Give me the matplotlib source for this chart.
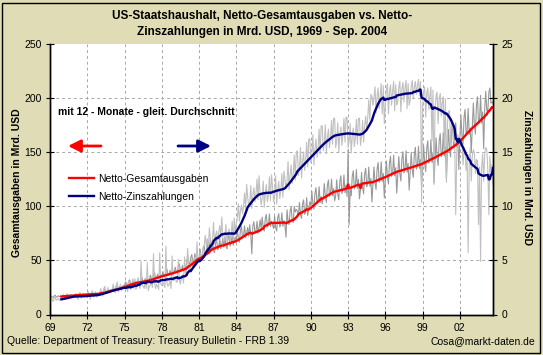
import numpy as np
import pandas as pd
import matplotlib
matplotlib.use('Agg')
import matplotlib.pyplot as plt
from matplotlib.patches import Rectangle

plt.rcParams['font.family'] = ['Liberation Sans', 'DejaVu Sans']

# ---------------- Monatswerte Jan 1969 - Sep 2004, Mrd. USD ----------------
ausgaben = [
    15.8, 17.0, 16.2, 15.6, 17.1, 17.8, 16.1, 16.4, 17.3, 16.5, 16.8, 16.6,   # 1969
    16.8, 18.1, 17.1, 16.7, 18.2, 18.6, 16.9, 17.4, 18.3, 17.2, 17.6, 17.7,   # 1970
    17.6, 19.1, 17.9, 17.5, 19.2, 19.6, 17.8, 18.2, 19.1, 18.1, 18.6, 18.3,   # 1971
    18.1, 19.6, 18.4, 18.0, 19.8, 20.6, 18.2, 18.8, 20.1, 18.9, 19.5, 19.2,   # 1972
    20.1, 21.6, 20.5, 20.4, 22.3, 23.1, 20.9, 21.5, 22.9, 21.8, 22.5, 22.8,   # 1973
    22.8, 25.0, 23.5, 23.2, 25.7, 26.3, 23.8, 24.6, 26.4, 24.8, 25.7, 27.0,   # 1974
    26.4, 30.1, 27.2, 26.8, 30.6, 32.0, 27.3, 28.4, 31.1, 28.0, 29.6, 30.5,   # 1975
    28.8, 32.4, 29.6, 28.7, 33.0, 33.9, 29.3, 30.5, 33.2, 29.9, 31.7, 32.2,   # 1976
    32.0, 36.3, 32.9, 32.2, 36.8, 38.6, 33.0, 34.1, 37.3, 33.6, 35.7, 36.3,   # 1977
    35.1, 39.5, 35.8, 35.2, 40.3, 41.9, 36.1, 37.2, 40.6, 36.7, 38.9, 39.9,   # 1978
    38.9, 43.6, 39.4, 38.7, 45.0, 46.7, 39.6, 40.8, 45.3, 40.1, 43.0, 44.1,   # 1979
    46.5, 54.7, 47.2, 46.8, 52.6, 55.3, 48.0, 49.7, 56.1, 50.4, 52.5, 51.0,   # 1980
    52.6, 60.3, 54.0, 52.1, 61.6, 63.2, 55.4, 57.8, 65.0, 56.5, 62.3, 69.6,   # 1981
    58.4, 66.8, 59.1, 57.0, 66.5, 68.9, 59.8, 61.5, 70.1, 60.6, 64.7, 69.8,   # 1982
    62.2, 71.7, 62.9, 60.6, 70.4, 73.6, 63.1, 65.3, 74.0, 63.8, 68.5, 71.5,   # 1983
    68.6, 79.0, 69.5, 66.7, 77.9, 81.1, 70.2, 72.4, 81.8, 70.9, 75.6, 80.3,   # 1984
    72.4, 82.8, 73.2, 56.0, 82.1, 85.6, 75.3, 76.7, 86.0, 75.1, 79.9, 87.3,   # 1985
    79.2, 89.8, 80.3, 77.0, 88.6, 92.3, 80.7, 82.5, 92.8, 81.2, 85.9, 82.5,   # 1986
    79.3, 90.7, 80.2, 77.0, 89.4, 93.1, 80.8, 82.9, 93.8, 81.4, 86.7, 82.3,   # 1987
    71.3, 96.6, 86.2, 83.0, 95.4, 99.1, 86.5, 84.9, 99.7, 94.6, 96.9, 95.4,   # 1988
    91.1, 103.3, 92.2, 88.7, 102.0, 105.8, 92.5, 94.1, 107.9, 91.3, 98.4, 103.9,   # 1989
    100.6, 113.5, 101.7, 97.3, 112.2, 117.0, 102.4, 104.8, 117.9, 103.3, 108.7, 102.2,   # 1990
    107.4, 120.8, 108.6, 103.5, 119.3, 124.1, 109.1, 111.4, 124.9, 109.5, 116.2, 104.8,  # 1991
    109.8, 124.2, 111.1, 105.9, 122.7, 128.0, 111.6, 114.3, 128.6, 112.2, 119.4, 109.0,  # 1992
    152.0, 83.0, 115.2, 109.5, 127.3, 132.6, 115.9, 118.4, 133.7, 116.3, 124.6, 106.7,   # 1993
    115.7, 131.0, 117.2, 111.4, 129.6, 134.9, 117.8, 120.4, 136.0, 118.3, 125.5, 103.8,  # 1994
    119.9, 136.1, 121.5, 115.4, 134.3, 140.2, 122.2, 124.8, 140.9, 122.7, 130.1, 107.5,  # 1995
    125.1, 141.6, 126.7, 120.4, 140.0, 145.9, 127.4, 130.0, 146.8, 127.9, 135.5, 111.9,  # 1996
    128.1, 145.7, 129.9, 123.2, 143.8, 150.2, 130.6, 133.4, 151.1, 131.2, 139.2, 114.8,  # 1997
    131.5, 149.6, 133.4, 126.5, 147.7, 154.2, 134.1, 137.0, 155.1, 134.7, 142.9, 117.7,  # 1998
    137.1, 155.5, 139.0, 131.9, 153.6, 160.3, 139.7, 142.6, 161.3, 140.3, 148.7, 121.6,  # 1999
    142.8, 163.0, 144.9, 137.5, 160.0, 166.9, 145.6, 148.6, 167.9, 146.2, 154.9, 125.3,  # 2000
    150.8, 170.7, 153.0, 145.3, 168.7, 175.8, 153.7, 156.8, 176.9, 154.3, 163.4, 133.8,  # 2001
    162.9, 183.9, 165.2, 157.1, 181.7, 189.2, 166.0, 169.2, 190.0, 166.0, 172.0, 150.0,  # 2002
    172.6, 195.2, 175.1, 166.4, 192.8, 200.9, 176.0, 179.4, 202.1, 176.5, 186.9, 152.9,  # 2003
    190.0, 206.0, 188.0, 188.0, 205.0, 209.0, 195.0, 196.0, 195.1,                       # 2004
]

zinsen = [
    1.3, 1.5, 1.4, 1.2, 1.5, 1.6, 1.3, 1.4, 1.5, 1.3, 1.4, 1.4,   # 1969
    1.5, 1.8, 1.6, 1.4, 1.8, 1.9, 1.5, 1.6, 1.8, 1.6, 1.7, 1.6,   # 1970
    1.6, 1.9, 1.6, 1.4, 1.9, 2.0, 1.5, 1.6, 1.9, 1.6, 1.7, 1.7,   # 1971
    1.6, 2.1, 1.7, 1.4, 2.0, 2.2, 1.6, 1.7, 2.1, 1.6, 1.8, 1.8,   # 1972
    1.9, 2.4, 2.0, 1.7, 2.4, 2.6, 1.9, 2.0, 2.5, 2.0, 2.2, 2.2,   # 1973
    2.2, 2.8, 2.3, 2.0, 2.7, 3.0, 2.1, 2.3, 2.8, 2.2, 2.5, 2.5,   # 1974
    2.4, 2.7, 2.5, 2.1, 3.1, 2.9, 2.3, 2.5, 3.3, 2.4, 3.3, 2.3,   # 1975
    2.6, 3.4, 2.7, 2.4, 4.9, 2.7, 2.6, 2.4, 3.2, 2.4, 4.8, 2.2,   # 1976
    2.6, 2.7, 2.9, 2.5, 5.6, 2.9, 2.4, 2.8, 2.6, 2.3, 5.7, 2.8,   # 1977
    2.7, 3.0, 2.8, 2.5, 6.3, 2.9, 2.6, 2.8, 3.1, 2.4, 5.4, 3.1,   # 1978
    3.2, 3.5, 3.0, 3.0, 5.1, 3.2, 2.8, 3.4, 3.7, 2.9, 5.3, 3.6,   # 1979
    4.1, 6.1, 4.2, 4.0, 4.7, 5.1, 4.4, 4.8, 5.3, 4.5, 6.7, 4.9,   # 1980
    5.0, 5.7, 5.4, 5.2, 6.2, 6.4, 7.3, 6.3, 7.0, 6.2, 8.0, 6.9,   # 1981
    6.3, 6.9, 8.5, 6.5, 7.3, 7.7, 6.9, 7.5, 8.2, 7.1, 9.0, 6.9,   # 1982
    6.7, 7.2, 8.3, 6.6, 7.5, 7.9, 6.8, 7.3, 8.6, 6.7, 8.9, 7.5,   # 1983
    8.4, 8.9, 10.2, 8.6, 9.6, 10.1, 9.3, 10.0, 11.2, 9.7, 12.0, 10.8,      # 1984
    9.9, 10.4, 11.9, 9.8, 11.0, 11.7, 10.4, 11.1, 12.5, 10.6, 12.8, 11.1,  # 1985
    10.1, 10.7, 12.3, 9.9, 11.2, 12.0, 10.4, 11.1, 12.7, 10.5, 12.9, 11.8, # 1986
    10.4, 11.0, 12.8, 10.2, 11.5, 12.3, 10.7, 11.4, 13.0, 10.8, 13.2, 12.5,   # 1987
    11.6, 12.3, 14.1, 11.5, 12.9, 13.8, 12.1, 12.9, 14.7, 12.4, 15.0, 15.1,   # 1988
    12.8, 13.5, 15.4, 12.6, 14.1, 15.0, 13.3, 14.2, 15.9, 13.6, 16.2, 16.2,   # 1989
    14.0, 14.7, 16.6, 13.8, 15.3, 16.2, 14.5, 15.4, 17.1, 14.8, 17.4, 17.4,   # 1990
    15.1, 15.7, 17.5, 14.8, 16.3, 17.1, 15.4, 16.3, 17.9, 15.7, 18.1, 18.1,   # 1991
    15.4, 16.0, 17.7, 15.0, 16.5, 17.3, 15.6, 16.5, 18.1, 15.9, 18.2, 18.2,   # 1992
    15.4, 16.0, 17.6, 14.9, 16.4, 17.2, 15.5, 16.3, 18.0, 15.7, 18.1, 18.1,   # 1993
    15.6, 16.4, 17.9, 15.9, 17.4, 18.3, 17.0, 18.2, 19.8, 17.9, 20.3, 20.1,   # 1994
    19.3, 20.0, 21.0, 18.6, 20.1, 20.9, 19.0, 20.2, 21.3, 18.5, 21.1, 17.6,   # 1995
    19.4, 20.7, 21.3, 18.5, 20.6, 21.2, 19.3, 20.6, 21.5, 18.8, 21.2, 19.3,   # 1996
    19.7, 21.0, 21.5, 18.7, 20.8, 21.4, 19.6, 20.9, 21.6, 19.0, 21.3, 19.3,   # 1997
    19.8, 21.1, 21.6, 19.9, 21.0, 21.5, 20.3, 21.1, 21.7, 20.2, 21.5, 10.3,   # 1998
    19.3, 20.6, 21.0, 18.2, 20.4, 20.9, 18.9, 20.2, 21.0, 16.0, 20.7, 12.0,   # 1999
    18.9, 20.2, 20.5, 17.6, 19.9, 20.4, 18.3, 19.6, 20.1, 15.0, 19.9, 12.2,   # 2000
    17.6, 18.7, 18.8, 15.8, 17.6, 17.6, 16.0, 15.9, 9.2, 14.9, 16.6, 15.7,    # 2001
    15.6, 16.2, 16.0, 13.8, 15.2, 15.0, 13.3, 14.4, 5.7, 13.9, 15.4, 12.3,    # 2002
    14.6, 15.2, 14.9, 13.0, 14.3, 14.2, 8.3, 13.6, 4.9, 13.5, 14.8, 12.3,     # 2003
    14.8, 15.4, 15.2, 13.3, 9.2, 14.6, 13.1, 13.8, 12.0,                      # 2004
]

start_jahr = 1969
tick_jahre = [1969, 1972, 1975, 1978, 1981, 1984, 1987, 1990, 1993, 1996, 1999, 2002]
tick_labels = ['69', '72', '75', '78', '81', '84', '87', '90', '93', '96', '99', '02']
y_links = [0, 50, 100, 150, 200, 250]
y_rechts = [0, 5, 10, 15, 20, 25]

monate = start_jahr + np.arange(len(ausgaben)) / 12.0
df = pd.DataFrame({'ausgaben': ausgaben, 'zinsen': zinsen}, index=monate)
gleit = df.rolling(12).mean()   # 12-Monate gleitender Durchschnitt

# ---------------- Figure ----------------
W, H = 543, 355
bg = '#DFDCB6'
fig = plt.figure(figsize=(W / 100, H / 100), dpi=100, facecolor=bg)
ax = fig.add_axes([50 / W, 1 - 314.5 / H, 443 / W, 271 / H])
ax.set_facecolor('white')
ax2 = ax.twinx()

grid_col = '#A8A8A8'
dash = (0, (3, 3))

# Rohdaten (grau), dann Durchschnitte; Zinsen ueber die rechte Skala
ax.plot(monate, df['ausgaben'], color='#999999', lw=0.8, zorder=2)
ax.plot(monate, df['zinsen'], color='#C0C0C0', lw=0.8, zorder=2.1,
        transform=ax2.transData)
l_aus, = ax.plot(monate, gleit['ausgaben'], color='#FF0000', lw=1.7, zorder=3)
l_zin, = ax.plot(monate, gleit['zinsen'], color='#000080', lw=1.7, zorder=3.1,
                 transform=ax2.transData)

ax.set_xlim(monate[0], monate[-1])
ax.set_ylim(0, 250)
ax2.set_ylim(0, 25)

ax.set_xticks(tick_jahre, tick_labels)
ax.set_yticks(y_links)
ax2.set_yticks(y_rechts)

ax.grid(axis='x', color=grid_col, linestyle=dash, lw=0.7, zorder=1)
for v in y_links[1:-1]:
    ax.axhline(v, color=grid_col, linestyle=dash, lw=0.7, zorder=1)

for a in (ax, ax2):
    a.spines['top'].set_visible(False)
    for s in ('left', 'right', 'bottom'):
        a.spines[s].set_color('black')
        a.spines[s].set_linewidth(1.0)
    a.tick_params(direction='inout', length=6, width=0.8, labelsize=7.5,
                  colors='black', pad=3)

# Legende
ax.legend([l_aus, l_zin], ['Netto-Gesamtausgaben', 'Netto-Zinszahlungen'],
          loc='upper left', bbox_to_anchor=(69 / W, 1 - 174 / H),
          bbox_transform=fig.transFigure, frameon=False, fontsize=7.5,
          handlelength=2.4, handletextpad=0.4, labelspacing=0.75,
          borderpad=0, borderaxespad=0)

# Pfeile
yp = H - 146
ax.annotate('', xy=(68, yp), xytext=(101, yp), xycoords='figure pixels',
            arrowprops=dict(arrowstyle='-|>,head_length=0.5,head_width=0.25',
                            color='#FF0000', lw=2, mutation_scale=15,
                            shrinkA=0, shrinkB=0))
ax.annotate('', xy=(211, yp), xytext=(178, yp), xycoords='figure pixels',
            arrowprops=dict(arrowstyle='-|>,head_length=0.5,head_width=0.25',
                            color='#000080', lw=2, mutation_scale=15,
                            shrinkA=0, shrinkB=0))

# Texte
fig.text(262 / W, 1 - 15.5 / H, 'US-Staatshaushalt, Netto-Gesamtausgaben vs. Netto-',
         ha='center', va='center', fontsize=8.5, fontweight='bold')
fig.text(262 / W, 1 - 31.5 / H, 'Zinszahlungen in Mrd. USD, 1969 - Sep. 2004',
         ha='center', va='center', fontsize=8.5, fontweight='bold')
fig.text(17 / W, 1 - 183 / H, 'Gesamtausgaben in Mrd. USD', rotation=90,
         ha='center', va='center', fontsize=7.5, fontweight='bold')
fig.text(527 / W, 1 - 178 / H, 'Zinszahlungen in Mrd. USD', rotation=270,
         ha='center', va='center', fontsize=7.5, fontweight='bold')
fig.text(58 / W, 1 - 112 / H, 'mit 12 - Monate - gleit. Durchschnitt',
         ha='left', va='center', fontsize=7.5, fontweight='bold')
fig.text(7 / W, 1 - 341 / H,
         'Quelle: Department of Treasury: Treasury Bulletin - FRB 1.39',
         ha='left', va='center', fontsize=7.5)
fig.text(535 / W, 1 - 341 / H, 'Cosa@markt-daten.de',
         ha='right', va='center', fontsize=7.5)

# Rahmen um die Grafik
fig.add_artist(Rectangle((2 / W, 2 / H), 538 / W, 350 / H, transform=fig.transFigure,
                         fill=False, edgecolor='black', lw=1.0))

fig.savefig('out.png', dpi=100, facecolor=bg)
